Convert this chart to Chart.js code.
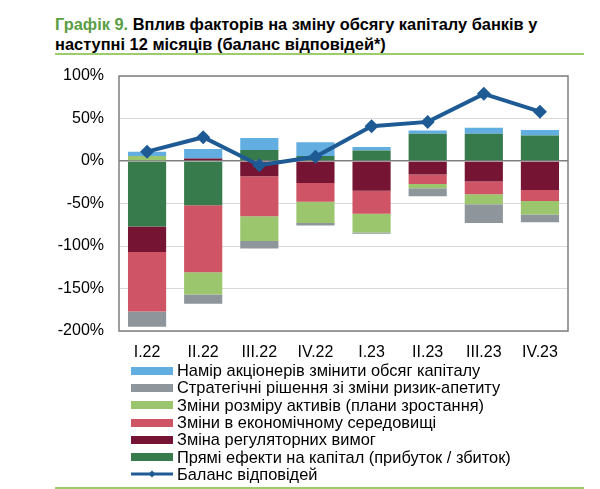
<!DOCTYPE html>
<html lang="uk">
<head>
<meta charset="utf-8">
<script src="https://cdn.jsdelivr.net/npm/chart.js@4/dist/chart.umd.min.js"></script>
<style>
  body { margin: 0; background: #fff; }
  #wrap { position: relative; width: 600px; height: 489px; overflow: hidden; font-family: "Liberation Sans", Arial, sans-serif; }
  #title { position: absolute; left: 55px; top: 14px; font-size: 16.4px; font-weight: bold; line-height: 20px; color: #000; white-space: nowrap; }
  #title .num { color: #5b9e45; }
  .rule { position: absolute; left: 55px; width: 529px; height: 2px; background: #9dcb6e; }
  #chart { position: absolute; left: 0; top: 0; }
  #legend { position: absolute; left: 131px; top: 362px; font-size: 16.4px; color: #000; }
  .item { height: 17.3px; display: flex; align-items: center; white-space: nowrap; }
  .box { width: 42px; height: 8px; margin-right: 4px; flex: none; }
  .lineKey { width: 42px; height: 8px; margin-right: 4px; position: relative; flex: none; }
</style>
</head>
<body>
<div id="wrap">
  <div id="title"><span class="num">Графік 9.</span> Вплив факторів на зміну обсягу капіталу банків у<br>наступні 12 місяців (баланс відповідей*)</div>
  <div class="rule" style="top:53px"></div>
  <canvas id="chart" width="600" height="489"></canvas>
  <div id="legend"></div>
  <div class="rule" style="top:487px"></div>
</div>
<script>
const quarters = ["I.22", "II.22", "III.22", "IV.22", "I.23", "II.23", "III.23", "IV.23"];

// factor contributions, % (balance of answers)
const directEffects = [-77, -52, 13, 6, 12.5, 32, 32, 30];
const regulation = [-30, 3, -18, -26, -35, -16, -24, -34];
const economy = [-70, -79, -47, -22, -27, -11, -15, -13];
const assetSize = [6, -26, -29, -25, -22, -5, -12, -16];
const strategy = [-18, -11, -9, -3, -1.5, -9.5, -22, -9];
const shareholders = [5, 11, 14, 16, 4, 4, 7, 6.5];
const balance = [11, 28, -5, 5, 41, 46, 79, 58];

const yTicks = [-200, -150, -100, -50, 0, 50, 100];

// frame round the plot area
const framePlugin = {
  id: "frame",
  beforeDatasetsDraw(chart) {
    const a = chart.chartArea;
    const ctx = chart.ctx;
    ctx.save();
    ctx.strokeStyle = "#7f7f7f";
    ctx.lineWidth = 1.5;
    ctx.strokeRect(a.left, a.top, a.right - a.left, a.bottom - a.top);
    ctx.restore();
  }
};

function bar(label, data, color) {
  return {
    type: "bar",
    label: label,
    data: data,
    backgroundColor: color,
    stack: "f",
    order: 1,
    barPercentage: 0.68,
    categoryPercentage: 1
  };
}

const chart = new Chart(document.getElementById("chart"), {
  data: {
    labels: quarters,
    datasets: [
      {
        type: "line",
        label: "Баланс відповідей",
        data: balance,
        borderColor: "#1e5a94",
        backgroundColor: "#1e5a94",
        borderWidth: 4,
        pointStyle: "rectRot",
        pointRadius: 7,
        pointBorderWidth: 0,
        tension: 0,
        stack: "line",
        order: 0
      },
      bar("Прямі ефекти на капітал (прибуток / збиток)", directEffects, "#377a4b"),
      bar("Зміна регуляторних вимог", regulation, "#751533"),
      bar("Зміни в економічному середовищі", economy, "#cf5566"),
      bar("Зміни розміру активів (плани зростання)", assetSize, "#9cc66e"),
      bar("Стратегічні рішення зі зміни ризик-апетиту", strategy, "#8e959b"),
      bar("Намір акціонерів змінити обсяг капіталу", shareholders, "#62aee0")
    ]
  },
  options: {
    responsive: false,
    animation: false,
    layout: { padding: { top: 76, right: 32, bottom: 0, left: 0 } },
    plugins: {
      legend: { display: false },
      tooltip: { enabled: false }
    },
    scales: {
      x: {
        stacked: true,
        grid: { display: false, drawTicks: false },
        border: { display: false },
        ticks: { color: "#000", font: { family: "Liberation Sans", size: 16 }, padding: 12 },
        afterFit: (s) => { s.height = 158; }
      },
      y: {
        stacked: true,
        min: -200,
        max: 100,
        afterBuildTicks: (s) => { s.ticks = yTicks.map(v => ({ value: v })); },
        ticks: {
          color: "#000",
          font: { family: "Liberation Sans", size: 16 },
          padding: 15,
          callback: (v) => v + "%"
        },
        grid: {
          drawTicks: false,
          color: (c) => (c.tick && c.tick.value === 0 ? "#7f7f7f" : "#d9d9d9"),
          lineWidth: (c) => (c.tick && c.tick.value === 0 ? 1.5 : 1)
        },
        border: { display: false },
        afterFit: (s) => { s.width = 119; }
      }
    }
  },
  plugins: [framePlugin]
});

// legend in one column, bars in reverse stacking order, line last
const legend = document.getElementById("legend");
const barSets = chart.data.datasets.filter(d => d.type === "bar").reverse();
const lineSets = chart.data.datasets.filter(d => d.type === "line");
barSets.forEach(d => {
  const row = document.createElement("div");
  row.className = "item";
  row.innerHTML = '<span class="box" style="background:' + d.backgroundColor + '"></span>' + d.label;
  legend.appendChild(row);
});
lineSets.forEach(d => {
  const row = document.createElement("div");
  row.className = "item";
  row.innerHTML =
    '<span class="lineKey"><svg width="42" height="8" style="position:absolute;left:0;top:0">' +
    '<line x1="0" y1="4" x2="42" y2="4" stroke="' + d.borderColor + '" stroke-width="3"/>' +
    '<polygon points="21,0.5 24.5,4 21,7.5 17.5,4" fill="' + d.borderColor + '"/></svg></span>' + d.label;
  legend.appendChild(row);
});
</script>
</body>
</html>
